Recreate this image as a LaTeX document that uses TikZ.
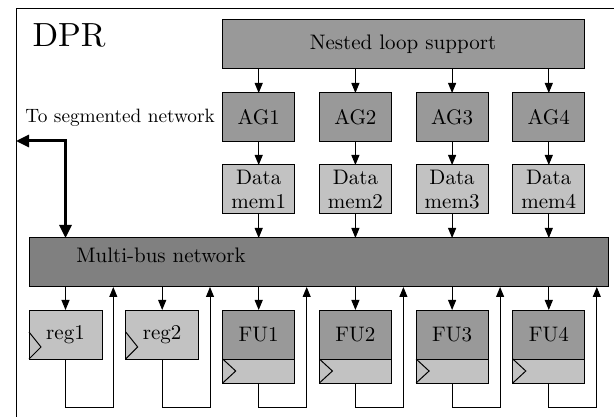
\documentclass[tikz,border=0pt]{standalone}
\usepackage{fontspec}
\setmainfont{lmroman10-regular.otf}
\usetikzlibrary{positioning,arrows.meta}
\definecolor{boxdark}{gray}{0.6}
\definecolor{busdark}{gray}{0.5}
\definecolor{boxlight}{gray}{0.76}

\begin{document}
\begin{tikzpicture}[x=1pt, y=-1pt, line width=1pt, >={Triangle[length=10pt,width=8pt]},
    font=\fontsize{21}{24.5}\selectfont,
    unit/.style={draw, fill=boxdark, minimum width=72pt, minimum height=49pt, inner sep=0pt, outer sep=0pt},
    lightunit/.style={unit, fill=boxlight, align=center}]
    \useasboundingbox (0,0) rectangle (614,417);
    \draw (16,417) |- (614,9);
    \node[anchor=base west, inner sep=0pt, font=\fontsize{33.5}{36}\selectfont] (dpr) at (32,47) {DPR};

    \node[unit, minimum width=362pt] (loop) at (403,44.5) {Nested loop support};
    \node[unit, fill=busdark, minimum width=579pt] (bus) at (318.5,262.5) {};
    \node[anchor=west] (busname) at (72.5,255) {Multi-bus network};

    \foreach \i in {1,...,4} {
      \pgfmathsetmacro\cx{258.7+96.7*(\i-1)}
      \node[unit] (ag\i) at (\cx,117.5) {AG\i};
      \node[lightunit, below=23pt of ag\i] (mem\i) {Data\\mem\i};
      \node[unit] (fu\i) at (\cx,334.5) {FU\i};
      \node[lightunit, minimum height=24pt, below=0pt of fu\i] (fureg\i) {};
      \draw (fureg\i.north west) -- ++(13,12) -- (fureg\i.south west);
      \draw[->] (loop.south -| ag\i) -- (ag\i);
      \draw[->] (ag\i) -- (mem\i);
      \draw[->] (mem\i) -- (mem\i |- bus.north);
      \draw[->] (bus.south -| fu\i) -- (fu\i);
    }
    \foreach \k in {1,2} {
      \pgfmathsetmacro\cx{65.5+96.7*(\k-1)}
      \node[lightunit, minimum width=73pt] (reg\k) at (\cx,334.5) {reg\k};
      \draw (reg\k.south west) ++(0,-27) -- ++(12,15) -- (reg\k.south west);
      \draw[->] (bus.south -| reg\k) -- (reg\k);
    }

    \foreach \b [count=\k from 0] in {reg1,reg2,fureg1,fureg2,fureg3,fureg4} {
      \pgfmathsetmacro\cx{113.3+96.7*\k}
      \coordinate (ret\k) at (\cx,407);
      \draw[->] (\b.south) |- (ret\k) -- (ret\k |- bus.south);
    }

    \node[left=4pt of ag1, font=\fontsize{19.3}{22}\selectfont] (seglabel) {To segmented network};
    \coordinate (segnet) at (16,141);
    \draw[<->, line width=3pt, >={Triangle[length=13pt,width=12pt]}] (segnet) -| (bus.north -| reg1);
  \end{tikzpicture}
\end{document}
